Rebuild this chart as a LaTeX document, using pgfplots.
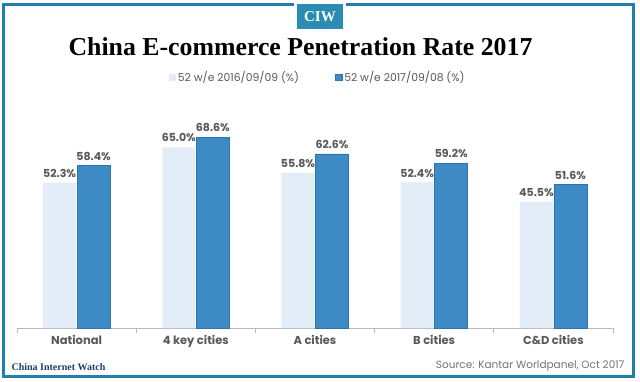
\documentclass[border=0pt]{standalone}
\usepackage{pgfplots}
\pgfplotsset{compat=1.18}
\usepackage{fontspec}
\setmainfont{Poppins}
\newfontfamily\serifb{Liberation Serif}
\definecolor{frame}{HTML}{1F80A9}
\definecolor{ciw}{HTML}{2B8CB3}
\definecolor{lightbar}{HTML}{E3EDF7}
\definecolor{darkbar}{HTML}{3E8AC4}
\definecolor{darkedge}{HTML}{2C74B0}
\definecolor{txt}{HTML}{595959}
\definecolor{navy}{HTML}{1B3F6B}
\begin{document}
\begin{tikzpicture}[x=1pt,y=1pt]
\fill[white] (0,0) rectangle (640,381);
\draw[frame, line width=3pt] (3.5,4.5) rectangle (633.5,376.5);
\fill[white] (294,370) rectangle (346,381);
\fill[ciw] (297,352) rectangle (343,377);
\node[white, font=\serifb\bfseries\fontsize{15}{15}\selectfont] at (320,364.5) {CIW};
\node[anchor=base, font=\serifb\bfseries\fontsize{25.8}{25.8}\selectfont, black] at (300.5,325) {China E-commerce Penetration Rate 2017};
\node[anchor=base west, font=\serifb\bfseries\fontsize{10}{10}\selectfont, navy] at (8,11) {China Internet Watch};
\node[anchor=base east, font=\fontsize{10.5}{10.5}\selectfont, color=gray!90!black] at (628,13) {Source: Kantar Worldpanel, Oct 2017};
\begin{axis}[
  at={(17pt,53pt)}, anchor=south west,
  scale only axis, width=596pt, height=222.4pt,
  xmin=-0.5, xmax=4.5, ymin=0, ymax=80,
  hide y axis,
  axis x line*=bottom,
  x axis line style={color=gray!55, line width=1pt},
  xtick={0,1,2,3,4},
  xticklabels={National,4 key cities,A cities,B cities,C\&D cities},
  major x tick style={draw=none},
  minor xtick={-0.5,0.5,1.5,2.5,3.5,4.5},
  minor x tick style={color=gray!55, line width=0.8pt},
  minor tick length=5pt,
  tick align=outside,
  xticklabel style={font=\bfseries\fontsize{11.5}{11.5}\selectfont, color=txt, anchor=base, yshift=-12pt},
  ybar, bar width=33pt,
  clip=false,
  /pgf/number format/assume math mode=true,
  nodes near coords={\pgfmathprintnumber[fixed,fixed zerofill,precision=1,assume math mode=true]{\pgfplotspointmeta}\%},
  every node near coord/.append style={font=\bfseries\fontsize{11}{11}\selectfont, color=txt, inner sep=0pt, yshift=5pt},
  legend style={at={(0.505,1.126)}, anchor=center, draw=none, fill=none,
    legend columns=2, font=\fontsize{10.8}{10.8}\selectfont, text=txt,
    /tikz/every even column/.append style={column sep=34pt}},
  legend image code/.code={\fill[#1] (0pt,-3pt) rectangle (6.5pt,3.5pt);},
]
\addplot[fill=lightbar, draw=none, bar shift=-17pt] coordinates {(0,52.3) (1,65.0) (2,55.8) (3,52.4) (4,45.5)};
\addplot[fill=darkbar, draw=darkedge, line width=0.8pt, bar shift=17pt] coordinates {(0,58.4) (1,68.6) (2,62.6) (3,59.2) (4,51.6)};
\legend{52 w/e 2016/09/09 (\%), 52 w/e 2017/09/08 (\%)}
\end{axis}
\end{tikzpicture}
\end{document}
